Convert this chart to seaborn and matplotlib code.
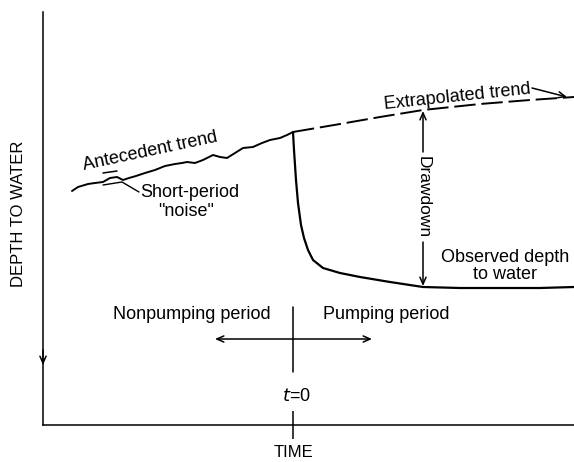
"""
Schematic hydrograph: drawdown measured from the extrapolated antecedent trend
"""
import matplotlib
matplotlib.use("Agg")
import matplotlib.pyplot as plt
import seaborn as sns
import pandas as pd

# Curves (time, depth), depth grows downward
antecedent_time = [72, 78, 88, 95, 103, 110, 117, 123, 129, 136, 145, 155, 165, 175,
                   182, 187, 195, 203, 213, 220, 227, 235, 243, 253, 262, 270, 280, 287, 293]
antecedent_depth = [191, 187, 184, 183, 182, 178, 177, 180, 178, 176, 173, 170, 166, 164,
                    163, 162, 163, 160, 155, 157, 158, 153, 148, 147, 143, 140, 138, 135, 132]

extrapolated_time = [293, 340, 380, 423, 480, 530, 574]
extrapolated_depth = [132, 124, 117, 110, 104, 100, 97]

observed_time = [293, 294, 296, 298, 301, 304, 308, 313, 323, 340, 360, 390, 423, 460, 500, 540, 574]
observed_depth = [132, 150, 180, 203, 225, 238, 250, 260, 268, 273, 277, 282, 287, 288, 288, 288, 287]

t0 = 293

sns.set_style("white")
plt.rcParams['font.family'] = ['Liberation Sans', 'DejaVu Sans']
plt.rcParams['text.color'] = 'black'

W, H = 574, 462
fig = plt.figure(figsize=(W / 100, H / 100), dpi=100)
ax = fig.add_axes([43 / W, (H - 425) / H, (W - 43) / W, (425 - 12) / H])
ax.set_xlim(43, W)
ax.set_ylim(425, 12)

lw = 1.4
ante = pd.DataFrame({'t': antecedent_time, 'd': antecedent_depth})
extra = pd.DataFrame({'t': extrapolated_time, 'd': extrapolated_depth})
obs = pd.DataFrame({'t': observed_time, 'd': observed_depth})

sns.lineplot(data=ante, x='t', y='d', ax=ax, color='black', lw=lw, sort=False)
sns.lineplot(data=extra, x='t', y='d', ax=ax, color='black', lw=lw, sort=False)
ax.lines[-1].set_dashes((11, 3))
sns.lineplot(data=obs, x='t', y='d', ax=ax, color='black', lw=lw + 0.2, sort=False)

# axes look
for s in ['top', 'right']:
    ax.spines[s].set_visible(False)
for s in ['left', 'bottom']:
    ax.spines[s].set_linewidth(1.1)
    ax.spines[s].set_color('black')
ax.set_xlabel('')
ax.set_ylabel('')
ax.set_yticks([])
ax.set_xticks([t0])
ax.set_xticklabels([])
ax.tick_params(axis='x', bottom=True, direction='inout', length=20, width=1.1, color='black')

arrow_kw = dict(arrowstyle='->,head_length=0.5,head_width=0.22', color='black', lw=1.1,
                shrinkA=0, shrinkB=0)

# down arrow on the depth axis
ax.annotate('', xy=(43, 365), xytext=(43, 350), arrowprops=arrow_kw, annotation_clip=False)

# drawdown arrows
ax.annotate('', xy=(423, 111), xytext=(423, 152), arrowprops=arrow_kw)
ax.annotate('', xy=(423, 286), xytext=(423, 242), arrowprops=arrow_kw)
ax.text(423, 197, 'Drawdown', rotation=270, ha='center', va='center', fontsize=12.5)

# t = 0 marker and period arrows
ax.plot([t0, t0], [307, 372], color='black', lw=1.1)
ax.annotate('', xy=(215, 339), xytext=(372, 339),
            arrowprops=dict(arrowstyle='<->,head_length=0.5,head_width=0.22',
                            color='black', lw=1.1, shrinkA=0, shrinkB=0))
ax.text(192, 315, 'Nonpumping period', ha='center', va='center', fontsize=13)
ax.text(386, 315, 'Pumping period', ha='center', va='center', fontsize=13)
ax.text(296, 397, '$t$=0', ha='center', va='center', fontsize=13)

# labels of the curves
ax.text(150, 151, 'Antecedent trend', rotation=12, rotation_mode='anchor',
        ha='center', va='center', fontsize=13)
ax.plot([103, 117], [173, 171], color='black', lw=1.1)
ax.plot([103, 122, 139], [185, 182, 192], color='black', lw=1.0)
ax.text(140, 193, 'Short-period', ha='left', va='center', fontsize=13)
ax.text(186, 212, '"noise"', ha='center', va='center', fontsize=13)

ax.text(457, 97, 'Extrapolated trend', rotation=6, rotation_mode='anchor',
        ha='center', va='center', fontsize=13)
ax.annotate('', xy=(567, 97), xytext=(532, 88), arrowprops=arrow_kw)

ax.text(505, 266, 'Observed depth\nto water', ha='center', va='center',
        fontsize=13, linespacing=1.0)

# axis titles
ax.text(19, 214, 'DEPTH TO WATER', rotation=90, ha='center', va='center', fontsize=12)
ax.text(293, 453, 'TIME', ha='center', va='center', fontsize=12)

fig.savefig('out.png', dpi=100)
